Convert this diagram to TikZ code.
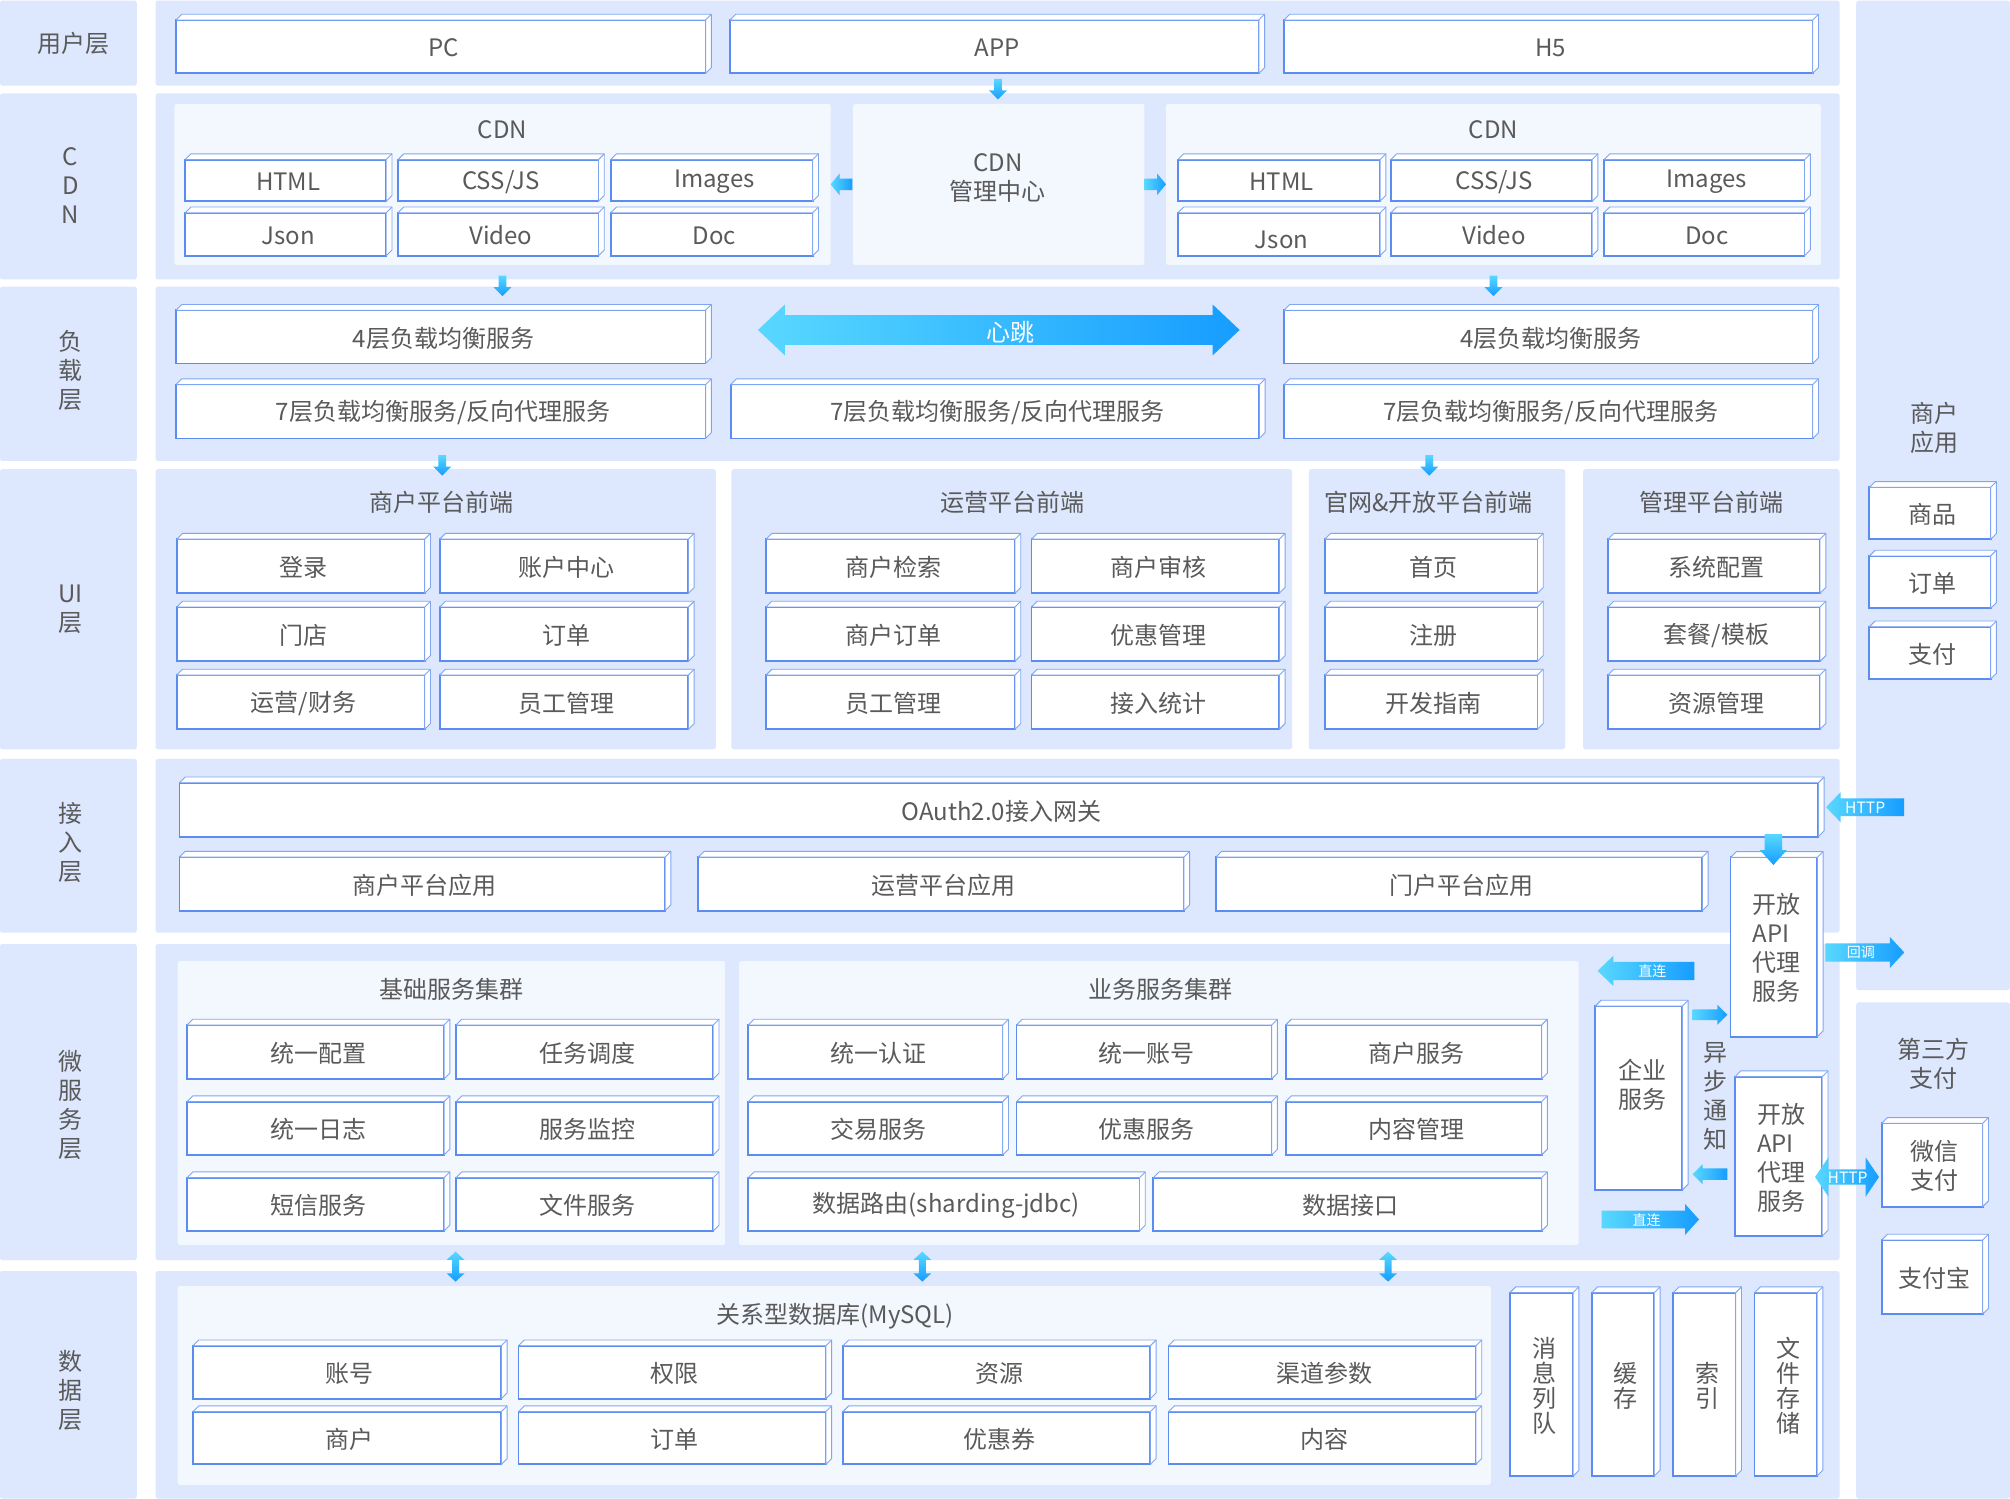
\documentclass[tikz,border=0pt]{standalone}
\usepackage{fontspec}
\setmainfont{Noto Sans CJK SC}
\definecolor{panel}{HTML}{DDE7FD}
\definecolor{inner}{HTML}{F3F7FE}
\definecolor{bord}{HTML}{5B8DF0}
\definecolor{bordl}{HTML}{7FA6F3}
\definecolor{txt}{HTML}{5A5A5A}
\definecolor{acyan}{HTML}{58D8FF}
\definecolor{ablue}{HTML}{169DFF}
\newcommand\fz{\fontsize{12pt}{14.5pt}\selectfont}
\def\dd{4.5}
\tikzset{
  pnl/.style={fill=panel, rounded corners=1.2pt},
  inr/.style={fill=inner, rounded corners=1.2pt},
  cubef/.style={draw=bord, fill=white, line width=0.9pt, inner sep=0pt, outer sep=0pt},
  cubeb/.style={draw=bordl, fill=white, line width=0.45pt, line join=round},
  lbl/.style={text=txt, font=\fz, align=center, inner sep=0pt},
  albl/.style={text=white, font=\fontsize{7pt}{8pt}\selectfont, inner sep=0pt},
  hlbl/.style={text=white, font=\fontsize{7.8pt}{8pt}\selectfont, inner sep=0pt}
}
% #1 label opt, #2 name, #3 x1, #4 y1, #5 x2, #6 y2, #7 text
\newcommand\cub[7][]{%
  \node[cubef,minimum width={(#5-#3)*0.64094pt},minimum height={(#6-#4)*0.64094pt}] (#2) at ({(#3+#5)/2},{(#4+#6)/2}) {};
  \draw[cubeb] (#2.north west) -- ++(\dd,-\dd) -- ([shift={(\dd,-\dd)}]#2.north east) -- ([shift={(\dd,-\dd)}]#2.south east) -- (#2.south east) -- (#2.north east) -- cycle;
  \draw[cubeb] (#2.north east) -- ++(\dd,-\dd);
  \node[lbl,#1] (#2t) at ([shift={(2,1)}]#2.center) {#7};
}
% empty cube
\newcommand\cube[5]{%
  \node[cubef,minimum width={(#4-#2)*0.64094pt},minimum height={(#5-#3)*0.64094pt}] (#1) at ({(#2+#4)/2},{(#3+#5)/2}) {};
  \draw[cubeb] (#1.north west) -- ++(\dd,-\dd) -- ([shift={(\dd,-\dd)}]#1.north east) -- ([shift={(\dd,-\dd)}]#1.south east) -- (#1.south east) -- (#1.north east) -- cycle;
  \draw[cubeb] (#1.north east) -- ++(\dd,-\dd);
}
% right arrow: tail x, tip x, y, shaft half, head half, head length
\newcommand\rarr[6]{\shade[left color=acyan,right color=ablue] (#1,{#3-#4}) -- ({#2-#6},{#3-#4}) -- ({#2-#6},{#3-#5}) -- (#2,#3) -- ({#2-#6},{#3+#5}) -- ({#2-#6},{#3+#4}) -- (#1,{#3+#4}) -- cycle;}
% left arrow: tip x, tail x, y, s, h, L
\newcommand\larr[6]{\shade[left color=acyan,right color=ablue] (#1,#3) -- ({#1+#6},{#3-#5}) -- ({#1+#6},{#3-#4}) -- (#2,{#3-#4}) -- (#2,{#3+#4}) -- ({#1+#6},{#3+#4}) -- ({#1+#6},{#3+#5}) -- cycle;}
% double horizontal
\newcommand\lrarr[6]{\shade[left color=acyan,right color=ablue] (#1,#3) -- ({#1+#6},{#3-#5}) -- ({#1+#6},{#3-#4}) -- ({#2-#6},{#3-#4}) -- ({#2-#6},{#3-#5}) -- (#2,#3) -- ({#2-#6},{#3+#5}) -- ({#2-#6},{#3+#4}) -- ({#1+#6},{#3+#4}) -- ({#1+#6},{#3+#5}) -- cycle;}
% down arrow: x, y tail, y tip, s, h, L
\newcommand\darr[6]{\shade[top color=acyan,bottom color=ablue] ({#1-#4},#2) -- ({#1+#4},#2) -- ({#1+#4},{#3-#6}) -- ({#1+#5},{#3-#6}) -- (#1,#3) -- ({#1-#5},{#3-#6}) -- ({#1-#4},{#3-#6}) -- cycle;}
% up-down arrow
\newcommand\udarr[6]{\shade[top color=acyan,bottom color=ablue] (#1,#2) -- ({#1+#5},{#2+#6}) -- ({#1+#4},{#2+#6}) -- ({#1+#4},{#3-#6}) -- ({#1+#5},{#3-#6}) -- (#1,#3) -- ({#1-#5},{#3-#6}) -- ({#1-#4},{#3-#6}) -- ({#1-#4},{#2+#6}) -- ({#1-#5},{#2+#6}) -- cycle;}
\begin{document}
\begin{tikzpicture}[x=0.64094pt,y=-0.64094pt]
\useasboundingbox (0,0) rectangle (1568,1169);
\fill[white] (0,0) rectangle (1568,1169);
% left column
\fill[pnl] (0,0.5) rectangle (106.7,66.8);
\fill[pnl] (0,72.8) rectangle (106.7,218);
\fill[pnl] (0,223.6) rectangle (106.7,359.6);
\fill[pnl] (0,366) rectangle (106.7,584.5);
\fill[pnl] (0,592) rectangle (106.7,727.6);
\fill[pnl] (0,736.4) rectangle (106.7,983);
\fill[pnl] (0,991.5) rectangle (106.7,1169);
% main rows
\fill[pnl] (121.4,0.5) rectangle (1435,66.8);
\fill[pnl] (121.4,72.8) rectangle (1435,218);
\fill[pnl] (121.4,223.6) rectangle (1435,359.6);
\fill[pnl] (121.4,366) rectangle (558.5,584.5);
\fill[pnl] (570.6,366) rectangle (1008,584.5);
\fill[pnl] (1021,366) rectangle (1221,584.5);
\fill[pnl] (1235,366) rectangle (1435,584.5);
\fill[pnl] (121.4,592) rectangle (1435,727.6);
\fill[pnl] (121.4,736.4) rectangle (1435,983);
\fill[pnl] (121.4,991.5) rectangle (1435,1169);
% right column
\fill[pnl] (1448,0.5) rectangle (1568,772.4);
\fill[pnl] (1448,782) rectangle (1568,1169);
% inner panels
\fill[inr] (136,81) rectangle (648,206.7);
\fill[inr] (665.4,81) rectangle (892.8,206.7);
\fill[inr] (909.6,81) rectangle (1420.5,206.7);
\fill[inr] (138.6,749.7) rectangle (565.7,971.2);
\fill[inr] (576.5,749.7) rectangle (1231.5,971.2);
\fill[inr] (138.6,1003.2) rectangle (1163,1158.4);

% left labels
\node[lbl] (L1) at (57,34) {用户层};
\node[lbl] (L2) at (55,145) {C\\D\\N};
\node[lbl] (L3) at (55,289) {负\\载\\层};
\node[lbl] (L4) at (55,475) {UI\\层};
\node[lbl] (L5) at (55,657) {接\\入\\层};
\node[lbl] (L6) at (55,862) {微\\服\\务\\层};
\node[lbl] (L7) at (55,1085) {数\\据\\层};

% user layer
\cub{pc}{137.3}{15.6}{550.4}{57.2}{PC}
\cub{app}{569.5}{15.6}{982}{57.2}{APP}
\cub{hf}{1001.6}{15.6}{1414.1}{57.2}{H5}

% CDN
\node[lbl] (cdnt1) at (392,101) {CDN};
\node[lbl] (cdnt2) at (1165,101) {CDN};
\node[lbl] (cdnm) at (778.5,138.5) {CDN\\管理中心};
\cub{htmla}{144.5}{124.5}{301.3}{157}{HTML}
\cub{cssa}{310.5}{124.5}{466.9}{157}{CSS/JS}
\cub{imga}{476.4}{124.5}{634}{157}{Images}
\cub{jsona}{144.5}{166}{301.3}{199.5}{Json}
\cub{videoa}{310.5}{166}{466.9}{199.5}{Video}
\cub{doca}{476.4}{166}{634}{199.5}{Doc}
\cub{htmlb}{918.9}{124.5}{1076.6}{157}{HTML}
\cub{cssb}{1085}{124.5}{1242}{157}{CSS/JS}
\cub{imgb}{1251.3}{124.5}{1407.7}{157}{Images}
\cube{jsonb}{918.9}{166}{1076.6}{199.5}
\node[lbl] (jsonbt) at ([shift={(2,4)}]jsonb.center) {Json};
\cub{videob}{1085}{166}{1242}{199.5}{Video}
\cub{docb}{1251.3}{166}{1407.7}{199.5}{Doc}

% load layer
\cub{lfa}{137.3}{242}{550.4}{283.5}{4层负载均衡服务}
\cub{lfb}{1001.6}{242}{1414.1}{283.5}{4层负载均衡服务}
\cub{lsa}{137.3}{300}{550.4}{342}{7层负载均衡服务/反向代理服务}
\cub{lsb}{570}{300}{982.4}{342}{7层负载均衡服务/反向代理服务}
\cub{lsc}{1001.6}{300}{1414.1}{342}{7层负载均衡服务/反向代理服务}

% UI layer
\node[lbl] (uit1) at (344.5,392) {商户平台前端};
\node[lbl] (uit2) at (789.5,392) {运营平台前端};
\node[lbl] (uit3) at (1114.5,392) {官网\&开放平台前端};
\node[lbl] (uit4) at (1335,392) {管理平台前端};
\cub{u11}{137.9}{420.6}{331.3}{462.8}{登录}
\cub{u12}{343}{420.6}{537}{462.8}{账户中心}
\cub{u13}{137.9}{473.5}{331.3}{515.9}{门店}
\cub{u14}{343}{473.5}{537}{515.9}{订单}
\cub{u15}{137.9}{526.6}{331.3}{568.9}{运营/财务}
\cub{u16}{343}{526.6}{537}{568.9}{员工管理}
\cub{u21}{597.6}{420.6}{791.8}{462.8}{商户检索}
\cub{u22}{804.7}{420.6}{998}{462.8}{商户审核}
\cub{u23}{597.6}{473.5}{791.8}{515.9}{商户订单}
\cub{u24}{804.7}{473.5}{998}{515.9}{优惠管理}
\cub{u25}{597.6}{526.6}{791.8}{568.9}{员工管理}
\cub{u26}{804.7}{526.6}{998}{568.9}{接入统计}
\cub{u31}{1033.5}{420.6}{1199.4}{462.8}{首页}
\cub{u32}{1033.5}{473.5}{1199.4}{515.9}{注册}
\cub{u33}{1033.5}{526.6}{1199.4}{568.9}{开发指南}
\cub{u41}{1254.4}{420.6}{1419.8}{462.8}{系统配置}
\cub{u42}{1254.4}{473.5}{1419.8}{515.9}{套餐/模板}
\cub{u43}{1254.4}{526.6}{1419.8}{568.9}{资源管理}

% access layer
\cub{oauth}{140}{610.6}{1418.5}{652.7}{OAuth2.0接入网关}
\cub{ap1}{140}{668.6}{518.8}{710.4}{商户平台应用}
\cub{ap2}{544.8}{668.6}{923.5}{710.4}{运营平台应用}
\cub{ap3}{948.6}{668.6}{1328}{710.4}{门户平台应用}
\cub[align=left]{apia}{1350}{668.8}{1417.7}{808.7}{开放\\API\\代理\\服务}

% micro service layer
\node[lbl] (mst1) at (352,772) {基础服务集群};
\node[lbl] (mst2) at (905,772) {业务服务集群};
\cub{b11}{145.9}{799.6}{346.4}{841.7}{统一配置}
\cub{b12}{355.7}{799.6}{556.4}{841.7}{任务调度}
\cub{b21}{145.9}{859.4}{346.4}{901}{统一日志}
\cub{b22}{355.7}{859.4}{556.4}{901}{服务监控}
\cub{b31}{145.9}{918.7}{346.4}{960.3}{短信服务}
\cub{b32}{355.7}{918.7}{556.4}{960.3}{文件服务}
\cub{s11}{583.7}{799.6}{782.2}{841.7}{统一认证}
\cub{s12}{793}{799.6}{992}{841.7}{统一账号}
\cub{s13}{1002.9}{799.6}{1202.6}{841.7}{商户服务}
\cub{s21}{583.7}{859.4}{782.2}{901}{交易服务}
\cub{s22}{793}{859.4}{992}{901}{优惠服务}
\cub{s23}{1002.9}{859.4}{1202.6}{901}{内容管理}
\cub{s31}{583.7}{918.7}{888.9}{960.3}{数据路由(sharding-jdbc)}
\cub{s32}{899.7}{918.7}{1202.6}{960.3}{数据接口}
\cube{ent}{1244.5}{784.8}{1312.4}{928.3}
\node[lbl] (entl) at (1281,846) {企业\\服务};
\node[lbl] (async) at (1338,855) {异\\步\\通\\知};
\cub[align=left]{apib}{1353.5}{839.9}{1421.5}{964.2}{开放\\API\\代理\\服务}

% right column
\node[lbl] (mat) at (1509,333.5) {商户\\应用};
\cub{goods}{1458.3}{380.2}{1552.9}{420.7}{商品}
\cub{ordr}{1458.3}{433.7}{1552.9}{474.6}{订单}
\cub{payr}{1458.3}{488.9}{1552.9}{529.7}{支付}
\node[lbl] (tpt) at (1508,830) {第三方\\支付};
\cub{wx}{1467.9}{876.3}{1546.7}{941.3}{微信\\支付}
\cub{ali}{1467.9}{967.3}{1546.7}{1025}{支付宝}

% data layer
\node[lbl] (dbt) at (651.5,1026.5) {关系型数据库(MySQL)};
\cub{d11}{150.6}{1049.8}{391.1}{1091.1}{账号}
\cub{d12}{404.5}{1049.8}{644.3}{1091.1}{权限}
\cub{d13}{657.6}{1049.8}{897.4}{1091.1}{资源}
\cub{d14}{911.6}{1049.8}{1151.4}{1091.1}{渠道参数}
\cub{d21}{150.6}{1101.2}{391.1}{1142.3}{商户}
\cub{d22}{404.5}{1101.2}{644.3}{1142.3}{订单}
\cub{d23}{657.6}{1101.2}{897.4}{1142.3}{优惠券}
\cub{d24}{911.6}{1101.2}{1151.4}{1142.3}{内容}
\cub[font=\fontsize{12pt}{12.5pt}\selectfont]{mq}{1177.9}{1008.4}{1227.2}{1151.4}{消\\息\\列\\队}
\cub[font=\fontsize{12pt}{12.5pt}\selectfont]{cache}{1241.8}{1008.4}{1290.5}{1151.4}{缓\\存}
\cub[font=\fontsize{12pt}{12.5pt}\selectfont]{idx}{1305.3}{1008.4}{1354}{1151.4}{索\\引}
\cub[font=\fontsize{12pt}{12.5pt}\selectfont]{fs}{1368.7}{1008.4}{1417.5}{1151.4}{文\\件\\存\\储}

% arrows
\darr{778.6}{61.6}{77.5}{3}{7}{7}
\darr{392}{215}{231}{3}{7}{7}
\darr{1165}{215}{231}{3}{7}{7}
\larr{648}{665}{143.8}{4.5}{8.5}{7}
\rarr{893}{909.6}{143.8}{4.5}{8.5}{7}
\lrarr{591.3}{967}{257.4}{11.65}{19.85}{21}
\node[lbl,text=white] (hb) at (788,259.5) {心跳};
\darr{345}{355}{371}{3}{7}{7}
\darr{1115}{355}{371}{3}{7}{7}
\darr{1383.4}{650.6}{674.8}{6.9}{10.5}{11.7}
\larr{1424.5}{1485.4}{629.7}{6.9}{11.75}{11.4}
\node[hlbl] (http1) at (1455,630.3) {HTTP};
\rarr{1424}{1485.5}{743}{7.15}{12.1}{11.2}
\node[albl] (cb) at (1451.7,742.6) {回调};
\larr{1246.3}{1321.7}{757.4}{7.15}{11.7}{12.2}
\node[albl] (zl1) at (1289,757.8) {直连};
\rarr{1320.4}{1347.5}{791.6}{4.2}{7.8}{7.8}
\larr{1320.4}{1347.5}{916}{4.5}{7.8}{7.8}
\rarr{1249.4}{1325.4}{951.3}{6.9}{12.1}{10.9}
\node[albl] (zl2) at (1284.6,951.5) {直连};
\lrarr{1415.9}{1465.8}{918.2}{6}{15.3}{10.4}
\node[hlbl] (http2) at (1441.3,918.4) {HTTP};
\udarr{355.4}{976.4}{999.8}{2.7}{7}{6.5}
\udarr{719.5}{976.4}{999.8}{2.7}{7}{6.5}
\udarr{1082.8}{976.4}{999.8}{2.7}{7}{6.5}
\end{tikzpicture}
\end{document}
